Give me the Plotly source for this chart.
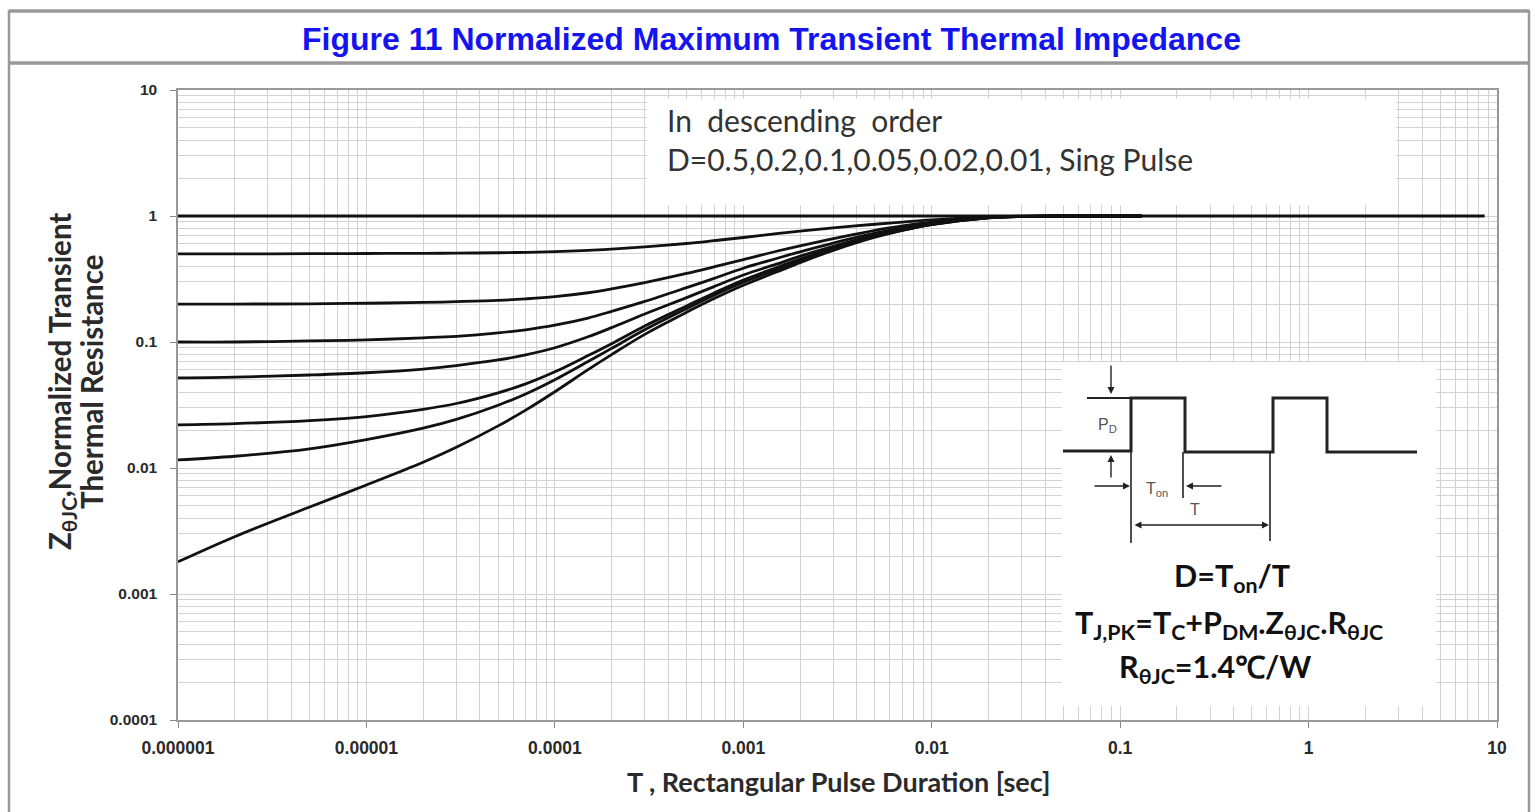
import plotly.graph_objects as go

# ---- data ----
pulse_t = [1e-6, 2e-6, 5e-6, 1e-5, 2e-5, 3e-5, 5e-5, 7e-5, 1e-4, 1.5e-4, 2e-4, 3e-4, 5e-4, 7e-4,
           1e-3, 1.5e-3, 2e-3, 3e-3, 5e-3, 7e-3, 1e-2, 2e-2, 3e-2, 5e-2, 1.3e-1]
z_d05 = [0.5, 0.5, 0.502, 0.504, 0.506, 0.507, 0.511, 0.515, 0.521, 0.533, 0.546, 0.568, 0.605, 0.637,
         0.675, 0.725, 0.76, 0.805, 0.86, 0.895, 0.93, 0.984, 0.997, 1.0, 1.0]
z_d02 = [0.2, 0.2, 0.201, 0.203, 0.206, 0.209, 0.214, 0.22, 0.229, 0.246, 0.264, 0.296, 0.35, 0.395,
         0.45, 0.525, 0.58, 0.66, 0.77, 0.835, 0.895, 0.975, 0.994, 1.0, 1.0]
z_d01 = [0.1, 0.1, 0.102, 0.104, 0.108, 0.111, 0.118, 0.125, 0.136, 0.155, 0.175, 0.21, 0.27, 0.32,
         0.385, 0.46, 0.52, 0.61, 0.73, 0.805, 0.875, 0.972, 0.994, 1.0, 1.0]
z_d005 = [0.052, 0.0527, 0.0547, 0.057, 0.061, 0.065, 0.072, 0.079, 0.09, 0.11, 0.13, 0.167, 0.225, 0.275,
          0.34, 0.415, 0.48, 0.575, 0.705, 0.785, 0.865, 0.97, 0.993, 1.0, 1.0]
z_d002 = [0.022, 0.0225, 0.0238, 0.0256, 0.0292, 0.0325, 0.0395, 0.0465, 0.058, 0.078, 0.097, 0.134, 0.193, 0.245,
          0.31, 0.39, 0.455, 0.555, 0.69, 0.775, 0.86, 0.969, 0.993, 1.0, 1.0]
z_d001 = [0.0116, 0.0124, 0.0142, 0.0168, 0.0207, 0.0243, 0.0315, 0.0387, 0.0502, 0.07, 0.089, 0.125, 0.184, 0.235,
          0.298, 0.375, 0.442, 0.545, 0.685, 0.772, 0.857, 0.968, 0.993, 1.0, 1.0]
z_single = [0.0018, 0.00285, 0.0049, 0.00733, 0.0111, 0.0146, 0.0216, 0.0288, 0.0403, 0.0603, 0.0794, 0.115, 0.172, 0.221,
            0.282, 0.359, 0.427, 0.533, 0.678, 0.769, 0.855, 0.968, 0.993, 1.0, 1.0]
series = [z_d05, z_d02, z_d01, z_d005, z_d002, z_d001, z_single]
series_names = ["D=0.5", "D=0.2", "D=0.1", "D=0.05", "D=0.02", "D=0.01", "Single Pulse"]
flat_t = [1e-6, 8.6]
flat_z = [1.0, 1.0]

x_ticks = [1e-6, 1e-5, 1e-4, 1e-3, 1e-2, 1e-1, 1, 10]
x_ticktext = ["0.000001", "0.00001", "0.0001", "0.001", "0.01", "0.1", "1", "10"]
y_ticks = [1e-4, 1e-3, 1e-2, 1e-1, 1, 10]
y_ticktext = ["0.0001", "0.001", "0.01", "0.1", "1", "10"]
x_minor = [m * 10.0 ** e for e in range(-6, 1) for m in range(2, 10)]
y_minor = [m * 10.0 ** e for e in range(-4, 1) for m in range(2, 10)]

# ---- layout helpers (pixel -> paper) ----
L, R, T, B = 178, 1497, 90, 720
W, H = 1535, 812


def px(x):
    return (x - L) / (R - L)


def py(y):
    return (B - y) / (B - T)


fig = go.Figure()
fig.add_trace(go.Scatter(x=flat_t, y=flat_z, mode="lines", name="D=1",
                         line=dict(color="#111", width=2.8), showlegend=False))
for name, z in zip(series_names, series):
    fig.add_trace(go.Scatter(x=pulse_t, y=z, mode="lines", name=name,
                             line=dict(color="#111", width=2.8, shape="spline", smoothing=1.0),
                             showlegend=False))

grid_c = "#d2d2d2"
fig.update_xaxes(type="log", range=[-6, 1], tickvals=x_ticks, ticktext=x_ticktext,
                 showgrid=True, gridcolor=grid_c, gridwidth=1,
                 minor=dict(tickvals=x_minor, showgrid=True, gridcolor=grid_c, gridwidth=1),
                 ticks="outside", ticklen=6, tickcolor="#888", ticklabelstandoff=5,
                 showline=True, linecolor="#999", linewidth=1.5, mirror=True,
                 tickfont=dict(family="Liberation Sans", size=17.5, color="#2a2a2a", weight="bold"),
                 zeroline=False)
fig.update_yaxes(type="log", range=[-4, 1], tickvals=y_ticks, ticktext=y_ticktext,
                 showgrid=True, gridcolor=grid_c, gridwidth=1,
                 minor=dict(tickvals=y_minor, showgrid=True, gridcolor=grid_c, gridwidth=1),
                 ticks="outside", ticklen=6, tickcolor="#888", ticklabelstandoff=10,
                 showline=True, linecolor="#999", linewidth=1.5, mirror=True,
                 tickfont=dict(family="Liberation Sans", size=15.5, color="#2a2a2a", weight="bold"),
                 zeroline=False)

shapes = []
# outer frame
frame_c = "#9a9a9a"
shapes.append(dict(type="line", xref="paper", yref="paper", x0=px(9), x1=px(9), y0=py(10), y1=py(812),
                   line=dict(color=frame_c, width=2.5)))
shapes.append(dict(type="line", xref="paper", yref="paper", x0=px(1529), x1=px(1529), y0=py(10), y1=py(812),
                   line=dict(color=frame_c, width=2.5)))
shapes.append(dict(type="line", xref="paper", yref="paper", x0=px(9), x1=px(1529), y0=py(11), y1=py(11),
                   line=dict(color=frame_c, width=3.5)))
shapes.append(dict(type="line", xref="paper", yref="paper", x0=px(9), x1=px(1529), y0=py(63), y1=py(63),
                   line=dict(color=frame_c, width=3.5)))
# white boxes covering grid
shapes.append(dict(type="rect", xref="paper", yref="paper", x0=px(647), x1=px(1396), y0=py(205), y1=py(99),
                   fillcolor="white", line=dict(width=0), layer="above"))
shapes.append(dict(type="rect", xref="paper", yref="paper", x0=px(1062), x1=px(1436), y0=py(706), y1=py(362),
                   fillcolor="white", line=dict(width=0), layer="above"))
# pulse waveform
wave = [(1063, 451), (1131, 451), (1131, 398), (1185, 398), (1185, 452), (1273, 452),
        (1273, 398), (1327, 398), (1327, 452), (1417, 452)]
path = "M " + " L ".join(f"{px(a):.5f},{py(b):.5f}" for a, b in wave)
shapes.append(dict(type="path", xref="paper", yref="paper", path=path,
                   line=dict(color="#222", width=3), layer="above"))
shapes.append(dict(type="line", xref="paper", yref="paper", x0=px(1087), x1=px(1131), y0=py(398), y1=py(398),
                   line=dict(color="#222", width=2), layer="above"))
for xx, yb in [(1131, 543), (1183, 498), (1270, 541)]:
    shapes.append(dict(type="line", xref="paper", yref="paper", x0=px(xx), x1=px(xx), y0=py(452), y1=py(yb),
                       line=dict(color="#222", width=1.6), layer="above"))
fig.update_layout(shapes=shapes)

ann = []


def arrow(hx, hy, tx, ty, both=False):
    d = dict(x=px(hx), y=py(hy), xref="paper", yref="paper", text="", showarrow=True,
             ax=tx - hx, ay=ty - hy, axref="pixel", ayref="pixel",
             arrowhead=2, arrowsize=1, arrowwidth=1.4, arrowcolor="#222", standoff=0, startstandoff=0)
    if both:
        d["arrowside"] = "end+start"
    ann.append(d)


arrow(1111, 394, 1111, 364)
arrow(1111, 455, 1111, 479)
arrow(1130, 486, 1093, 486)
arrow(1186, 486, 1223, 486)
arrow(1269, 525, 1133, 525, both=True)


def text(x, y, s, size, color, family="Lato", xanchor="center", angle=0):
    ann.append(dict(x=px(x), y=py(y), xref="paper", yref="paper", showarrow=False, text=s,
                    textangle=angle, font=dict(family=family, size=size, color=color),
                    xanchor=xanchor, yanchor="middle", align="left"))


text(771, 39, "<b>Figure 11 Normalized Maximum Transient Thermal Impedance</b>", 32, "#1414f0",
     family="Liberation Sans")
text(838, 781, "<b>T , Rectangular Pulse Duration [sec]</b>", 27, "#2a2a2a")
text(61, 382, "<b>Z<sub>θJC</sub>,Normalized Transient</b>", 29.5, "#2a2a2a", angle=-90)
text(91, 382, "<b>Thermal Resistance</b>", 29.5, "#2a2a2a", angle=-90)
text(665, 120, "In  descending  order", 30, "#333", xanchor="left")
text(665, 159, "D=0.5,0.2,0.1,0.05,0.02,0.01, Sing Pulse", 30, "#333", xanchor="left")
text(1107, 425, "P<sub>D</sub>", 16, "#555", family="Liberation Sans")
text(1157, 489, "T<sub>on</sub>", 16, "#555", family="Liberation Sans")
text(1195, 509, "T", 16, "#555", family="Liberation Sans")
text(1232, 577, "<b>D=T<sub>on</sub>/T</b>", 30.5, "#111")
text(1229, 624, "<b>T<sub>J,PK</sub>=T<sub>C</sub>+P<sub>DM</sub>.Z<sub>θJC</sub>.R<sub>θJC</sub></b>", 30.5, "#111")
text(1215, 668, "<b>R<sub>θJC</sub>=1.4℃/W</b>", 30.5, "#111")

fig.update_layout(annotations=ann, width=W, height=H,
                  margin=dict(l=L, r=W - R, t=T, b=H - B, pad=0),
                  paper_bgcolor="white", plot_bgcolor="white", showlegend=False)

fig.write_html("out.html", config={"displayModeBar": False},
               post_script="document.body.style.margin='0';document.body.style.overflow='hidden';")
